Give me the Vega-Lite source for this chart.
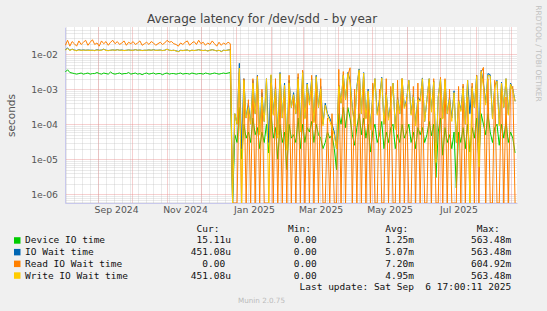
{
  "$schema": "https://vega.github.io/schema/vega-lite/v6.json",
  "width": 452,
  "height": 176,
  "autosize": {"type": "none"},
  "padding": {"left": 65, "top": 27, "right": 30, "bottom": 108},
  "background": "#f0f0f0",
  "title": {"text": "Average latency for /dev/sdd - by year", "font": "DejaVu Sans", "fontSize": 12, "fontWeight": "normal", "color": "#444444", "anchor": "middle", "frame": "group", "dx": -29, "dy": 25, "offset": 4},
  "config": {
    "view": {"fill": "#ffffff", "stroke": null},
    "axis": {"labelFont": "DejaVu Sans", "labelFontSize": 9.3, "labelColor": "#555555", "titleFont": "DejaVu Sans", "titleFontWeight": "normal", "domainColor": "#c8c8ec"}
  },
  "data": {"values": [
    {"d":"2024-08-03","g":3.1e-3,"b":1.35e-2,"o":1.8e-2,"w":1.32e-2},
    {"d":"2024-08-05","g":3.6e-3,"b":1.5e-2,"o":2.5e-2,"w":1.45e-2},
    {"d":"2024-08-07","g":3.0e-3,"b":1.3e-2,"o":1.7e-2,"w":1.28e-2},
    {"d":"2024-08-09","g":2.9e-3,"b":1.4e-2,"o":2.3e-2,"w":1.38e-2},
    {"d":"2024-08-11","g":2.8e-3,"b":1.32e-2,"o":2.0e-2,"w":1.3e-2},
    {"d":"2024-08-13","g":2.7e-3,"b":1.28e-2,"o":1.7e-2,"w":1.25e-2},
    {"d":"2024-08-15","g":2.8e-3,"b":1.35e-2,"o":2.4e-2,"w":1.33e-2},
    {"d":"2024-08-17","g":2.9e-3,"b":1.3e-2,"o":1.9e-2,"w":1.29e-2},
    {"d":"2024-08-19","g":2.7e-3,"b":1.33e-2,"o":2.2e-2,"w":1.3e-2},
    {"d":"2024-08-21","g":2.8e-3,"b":1.3e-2,"o":2.5e-2,"w":1.3e-2},
    {"d":"2024-08-23","g":2.9e-3,"b":1.32e-2,"o":1.8e-2,"w":1.3e-2},
    {"d":"2024-08-25","g":2.7e-3,"b":1.3e-2,"o":2.2e-2,"w":1.28e-2},
    {"d":"2024-08-27","g":2.8e-3,"b":1.3e-2,"o":2.6e-2,"w":1.3e-2},
    {"d":"2024-08-29","g":2.8e-3,"b":1.28e-2,"o":1.9e-2,"w":1.26e-2},
    {"d":"2024-08-31","g":3.0e-3,"b":1.35e-2,"o":2.1e-2,"w":1.33e-2},
    {"d":"2024-09-02","g":2.8e-3,"b":1.3e-2,"o":1.7e-2,"w":1.28e-2},
    {"d":"2024-09-04","g":2.7e-3,"b":1.32e-2,"o":2.4e-2,"w":1.3e-2},
    {"d":"2024-09-06","g":2.9e-3,"b":1.4e-2,"o":2.0e-2,"w":1.38e-2},
    {"d":"2024-09-08","g":2.8e-3,"b":1.3e-2,"o":2.3e-2,"w":1.28e-2},
    {"d":"2024-09-10","g":2.7e-3,"b":1.28e-2,"o":1.8e-2,"w":1.26e-2},
    {"d":"2024-09-12","g":3.1e-3,"b":1.3e-2,"o":2.2e-2,"w":1.3e-2},
    {"d":"2024-09-14","g":2.8e-3,"b":1.33e-2,"o":2.5e-2,"w":1.32e-2},
    {"d":"2024-09-16","g":2.7e-3,"b":1.3e-2,"o":2.0e-2,"w":1.29e-2},
    {"d":"2024-09-18","g":2.8e-3,"b":1.35e-2,"o":2.3e-2,"w":1.34e-2},
    {"d":"2024-09-20","g":2.9e-3,"b":1.3e-2,"o":1.9e-2,"w":1.3e-2},
    {"d":"2024-09-22","g":2.7e-3,"b":1.32e-2,"o":2.1e-2,"w":1.3e-2},
    {"d":"2024-09-24","g":2.8e-3,"b":1.28e-2,"o":2.4e-2,"w":1.27e-2},
    {"d":"2024-09-26","g":2.8e-3,"b":1.3e-2,"o":1.8e-2,"w":1.29e-2},
    {"d":"2024-09-28","g":3.0e-3,"b":1.33e-2,"o":2.2e-2,"w":1.32e-2},
    {"d":"2024-09-30","g":2.7e-3,"b":1.3e-2,"o":2.0e-2,"w":1.3e-2},
    {"d":"2024-10-02","g":2.8e-3,"b":1.3e-2,"o":2.3e-2,"w":1.29e-2},
    {"d":"2024-10-04","g":2.9e-3,"b":1.35e-2,"o":1.9e-2,"w":1.34e-2},
    {"d":"2024-10-06","g":2.7e-3,"b":1.3e-2,"o":2.1e-2,"w":1.3e-2},
    {"d":"2024-10-08","g":2.8e-3,"b":1.32e-2,"o":2.4e-2,"w":1.31e-2},
    {"d":"2024-10-10","g":2.6e-3,"b":1.28e-2,"o":1.8e-2,"w":1.27e-2},
    {"d":"2024-10-12","g":2.8e-3,"b":1.3e-2,"o":2.0e-2,"w":1.3e-2},
    {"d":"2024-10-14","g":2.9e-3,"b":1.3e-2,"o":2.2e-2,"w":1.29e-2},
    {"d":"2024-10-16","g":2.7e-3,"b":1.33e-2,"o":1.9e-2,"w":1.32e-2},
    {"d":"2024-10-18","g":2.8e-3,"b":1.3e-2,"o":2.3e-2,"w":1.3e-2},
    {"d":"2024-10-20","g":2.9e-3,"b":1.35e-2,"o":2.1e-2,"w":1.33e-2},
    {"d":"2024-10-22","g":2.7e-3,"b":1.3e-2,"o":1.8e-2,"w":1.28e-2},
    {"d":"2024-10-24","g":2.8e-3,"b":1.3e-2,"o":2.0e-2,"w":1.3e-2},
    {"d":"2024-10-26","g":2.8e-3,"b":1.32e-2,"o":2.2e-2,"w":1.31e-2},
    {"d":"2024-10-28","g":2.6e-3,"b":1.28e-2,"o":1.9e-2,"w":1.27e-2},
    {"d":"2024-10-30","g":2.8e-3,"b":1.3e-2,"o":2.1e-2,"w":1.3e-2},
    {"d":"2024-11-01","g":2.9e-3,"b":1.4e-2,"o":2.5e-2,"w":1.38e-2},
    {"d":"2024-11-03","g":2.7e-3,"b":1.3e-2,"o":2.2e-2,"w":1.3e-2},
    {"d":"2024-11-05","g":2.8e-3,"b":1.28e-2,"o":2.3e-2,"w":1.27e-2},
    {"d":"2024-11-07","g":2.8e-3,"b":1.3e-2,"o":2.0e-2,"w":1.3e-2},
    {"d":"2024-11-09","g":2.7e-3,"b":1.25e-2,"o":1.9e-2,"w":1.24e-2},
    {"d":"2024-11-11","g":2.8e-3,"b":1.2e-2,"o":1.7e-2,"w":1.18e-2},
    {"d":"2024-11-13","g":2.9e-3,"b":1.3e-2,"o":2.1e-2,"w":1.28e-2},
    {"d":"2024-11-15","g":2.7e-3,"b":1.28e-2,"o":1.9e-2,"w":1.26e-2},
    {"d":"2024-11-17","g":2.8e-3,"b":1.3e-2,"o":2.2e-2,"w":1.3e-2},
    {"d":"2024-11-19","g":2.8e-3,"b":1.32e-2,"o":2.4e-2,"w":1.31e-2},
    {"d":"2024-11-21","g":2.7e-3,"b":1.25e-2,"o":1.8e-2,"w":1.24e-2},
    {"d":"2024-11-23","g":2.9e-3,"b":1.3e-2,"o":2.1e-2,"w":1.3e-2},
    {"d":"2024-11-25","g":2.8e-3,"b":1.28e-2,"o":2.3e-2,"w":1.27e-2},
    {"d":"2024-11-27","g":2.7e-3,"b":1.3e-2,"o":1.9e-2,"w":1.3e-2},
    {"d":"2024-11-29","g":2.8e-3,"b":1.35e-2,"o":2.5e-2,"w":1.34e-2},
    {"d":"2024-12-01","g":2.8e-3,"b":1.3e-2,"o":2.0e-2,"w":1.29e-2},
    {"d":"2024-12-03","g":2.7e-3,"b":1.28e-2,"o":2.2e-2,"w":1.27e-2},
    {"d":"2024-12-05","g":2.9e-3,"b":1.3e-2,"o":1.8e-2,"w":1.3e-2},
    {"d":"2024-12-07","g":2.8e-3,"b":1.25e-2,"o":2.1e-2,"w":1.23e-2},
    {"d":"2024-12-09","g":2.7e-3,"b":1.3e-2,"o":1.9e-2,"w":1.3e-2},
    {"d":"2024-12-11","g":2.8e-3,"b":1.35e-2,"o":2.4e-2,"w":1.34e-2},
    {"d":"2024-12-13","g":2.9e-3,"b":1.3e-2,"o":2.0e-2,"w":1.29e-2},
    {"d":"2024-12-15","g":2.8e-3,"b":1.25e-2,"o":1.7e-2,"w":1.24e-2},
    {"d":"2024-12-17","g":2.7e-3,"b":1.3e-2,"o":2.2e-2,"w":1.3e-2},
    {"d":"2024-12-19","g":2.8e-3,"b":1.2e-2,"o":1.8e-2,"w":1.18e-2},
    {"d":"2024-12-21","g":2.9e-3,"b":1.3e-2,"o":2.1e-2,"w":1.3e-2},
    {"d":"2024-12-23","g":2.8e-3,"b":1.28e-2,"o":1.9e-2,"w":1.27e-2},
    {"d":"2024-12-25","g":2.9e-3,"b":1.32e-2,"o":2.2e-2,"w":1.31e-2},
    {"d":"2024-12-27","g":3.0e-3,"b":1.35e-2,"o":2.0e-2,"w":1.33e-2},
    {"d":"2024-12-29","g":0,"b":0,"o":0,"w":0},
    {"d":"2024-12-31","g":5e-5,"b":2e-4,"o":0,"w":2e-4},
    {"d":"2025-01-02","g":3e-5,"b":1e-4,"o":0,"w":1e-4},
    {"d":"2025-01-04","g":3e-4,"b":5.5e-3,"o":3e-3,"w":4e-3},
    {"d":"2025-01-06","g":1e-5,"b":2e-5,"o":0,"w":0},
    {"d":"2025-01-08","g":1e-4,"b":2e-3,"o":2e-3,"w":1.8e-3},
    {"d":"2025-01-10","g":4e-5,"b":1.5e-4,"o":0,"w":1.5e-4},
    {"d":"2025-01-12","g":6e-5,"b":4e-4,"o":5e-4,"w":3e-4},
    {"d":"2025-01-14","g":3e-5,"b":1e-4,"o":0,"w":1e-4},
    {"d":"2025-01-16","g":1.5e-4,"b":1.8e-3,"o":2e-3,"w":1.5e-3},
    {"d":"2025-01-18","g":5e-5,"b":2e-4,"o":0,"w":2e-4},
    {"d":"2025-01-20","g":8e-5,"b":2.5e-3,"o":2.4e-3,"w":2.2e-3},
    {"d":"2025-01-22","g":2e-5,"b":6e-5,"o":0,"w":5e-5},
    {"d":"2025-01-24","g":6e-5,"b":8e-4,"o":1e-3,"w":6e-4},
    {"d":"2025-01-26","g":3e-5,"b":1.2e-4,"o":0,"w":1.2e-4},
    {"d":"2025-01-28","g":1e-4,"b":2e-3,"o":0,"w":2e-3},
    {"d":"2025-01-30","g":1.5e-5,"b":3e-5,"o":0,"w":0},
    {"d":"2025-02-01","g":2e-4,"b":2.5e-3,"o":1.5e-3,"w":2.6e-3},
    {"d":"2025-02-03","g":4e-5,"b":2e-4,"o":0,"w":1.8e-4},
    {"d":"2025-02-05","g":8e-5,"b":1.2e-3,"o":2e-3,"w":1e-3},
    {"d":"2025-02-07","g":1e-5,"b":5e-5,"o":0,"w":4e-5},
    {"d":"2025-02-09","g":1e-4,"b":3e-3,"o":1e-3,"w":2.8e-3},
    {"d":"2025-02-11","g":3e-5,"b":1.5e-4,"o":0,"w":1.5e-4},
    {"d":"2025-02-13","g":6e-5,"b":1.5e-3,"o":1.2e-3,"w":1.3e-3},
    {"d":"2025-02-15","g":5e-6,"b":2e-5,"o":0,"w":1.8e-5},
    {"d":"2025-02-17","g":1e-4,"b":1.8e-3,"o":2.5e-3,"w":1.5e-3},
    {"d":"2025-02-19","g":4e-5,"b":3e-4,"o":0,"w":3e-4},
    {"d":"2025-02-21","g":5e-5,"b":8e-4,"o":6e-4,"w":7e-4},
    {"d":"2025-02-23","g":3e-5,"b":2e-4,"o":0,"w":2e-4},
    {"d":"2025-02-25","g":1.5e-4,"b":2.2e-3,"o":2.8e-3,"w":2e-3},
    {"d":"2025-02-27","g":2e-5,"b":8e-5,"o":0,"w":6e-5},
    {"d":"2025-03-01","g":1e-4,"b":3.2e-3,"o":3.5e-3,"w":3e-3},
    {"d":"2025-03-03","g":3e-5,"b":1.5e-4,"o":0,"w":1.4e-4},
    {"d":"2025-03-05","g":8e-5,"b":1.5e-3,"o":8e-4,"w":1.4e-3},
    {"d":"2025-03-07","g":6e-5,"b":4e-4,"o":0,"w":3.5e-4},
    {"d":"2025-03-09","g":1.2e-4,"b":2e-3,"o":2.5e-3,"w":1.8e-3},
    {"d":"2025-03-11","g":3e-5,"b":1.2e-4,"o":0,"w":1.1e-4},
    {"d":"2025-03-13","g":1e-4,"b":2.5e-3,"o":1.5e-3,"w":2.3e-3},
    {"d":"2025-03-15","g":5e-5,"b":3e-4,"o":0,"w":3e-4},
    {"d":"2025-03-17","g":4e-5,"b":1.2e-3,"o":2e-3,"w":1e-3},
    {"d":"2025-03-19","g":2e-5,"b":1e-4,"o":0,"w":9e-5},
    {"d":"2025-03-21","g":3e-5,"b":4e-4,"o":0,"w":3.5e-4},
    {"d":"2025-03-23","g":6e-5,"b":2e-4,"o":1.5e-4,"w":1.8e-4},
    {"d":"2025-03-25","g":4e-5,"b":1.5e-4,"o":0,"w":1.2e-4},
    {"d":"2025-03-27","g":5e-5,"b":1e-4,"o":2e-4,"w":8e-5},
    {"d":"2025-03-29","g":2e-5,"b":6e-5,"o":0,"w":5e-5},
    {"d":"2025-03-31","g":5e-6,"b":2e-5,"o":0,"w":2e-5},
    {"d":"2025-04-02","g":2e-4,"b":1.3e-3,"o":3.7e-3,"w":1.2e-3},
    {"d":"2025-04-04","g":1e-4,"b":4e-4,"o":0,"w":4e-4},
    {"d":"2025-04-06","g":3e-4,"b":2.6e-3,"o":3.2e-3,"w":2.5e-3},
    {"d":"2025-04-08","g":8e-5,"b":5e-4,"o":0,"w":5e-4},
    {"d":"2025-04-10","g":3e-4,"b":3e-3,"o":2.5e-3,"w":2.8e-3},
    {"d":"2025-04-12","g":1.5e-4,"b":1.8e-3,"o":4.1e-3,"w":1.5e-3},
    {"d":"2025-04-14","g":5e-5,"b":3e-4,"o":0,"w":2.5e-4},
    {"d":"2025-04-16","g":2.5e-5,"b":1e-4,"o":1e-3,"w":9e-5},
    {"d":"2025-04-18","g":8e-5,"b":1.2e-3,"o":0,"w":1.1e-3},
    {"d":"2025-04-20","g":2e-4,"b":3.8e-3,"o":3e-3,"w":3.6e-3},
    {"d":"2025-04-22","g":5e-5,"b":2e-4,"o":0,"w":2e-4},
    {"d":"2025-04-24","g":1.5e-4,"b":3e-3,"o":2e-3,"w":2.9e-3},
    {"d":"2025-04-26","g":4e-5,"b":1.5e-4,"o":0,"w":1.4e-4},
    {"d":"2025-04-28","g":1e-4,"b":1e-3,"o":8e-4,"w":9e-4},
    {"d":"2025-04-30","g":1.6e-5,"b":8e-5,"o":0,"w":7e-5},
    {"d":"2025-05-02","g":6e-5,"b":6e-4,"o":1.5e-3,"w":5e-4},
    {"d":"2025-05-04","g":1e-4,"b":2e-3,"o":0,"w":2e-3},
    {"d":"2025-05-06","g":3e-5,"b":2e-4,"o":0,"w":1.8e-4},
    {"d":"2025-05-08","g":5e-5,"b":5e-4,"o":1e-3,"w":4e-4},
    {"d":"2025-05-10","g":1.2e-4,"b":2.2e-3,"o":0,"w":2.1e-3},
    {"d":"2025-05-12","g":2e-5,"b":1e-4,"o":0,"w":1e-4},
    {"d":"2025-05-14","g":6e-5,"b":8e-4,"o":2e-3,"w":7e-4},
    {"d":"2025-05-16","g":3e-5,"b":1.5e-4,"o":0,"w":1.3e-4},
    {"d":"2025-05-18","g":8e-5,"b":3.8e-4,"o":1.2e-3,"w":3.5e-4},
    {"d":"2025-05-20","g":1e-4,"b":1.5e-3,"o":0,"w":1.5e-3},
    {"d":"2025-05-22","g":2e-5,"b":8e-5,"o":0,"w":7e-5},
    {"d":"2025-05-24","g":5e-5,"b":6e-4,"o":1.8e-3,"w":5e-4},
    {"d":"2025-05-26","g":3e-5,"b":2e-4,"o":0,"w":2e-4},
    {"d":"2025-05-28","g":1e-4,"b":2e-3,"o":2e-3,"w":2e-3},
    {"d":"2025-05-30","g":4e-5,"b":3e-4,"o":0,"w":2.8e-4},
    {"d":"2025-06-01","g":6e-5,"b":5e-4,"o":6e-4,"w":4.5e-4},
    {"d":"2025-06-03","g":1e-4,"b":1.8e-3,"o":0,"w":1.8e-3},
    {"d":"2025-06-05","g":3e-5,"b":2e-4,"o":0,"w":1.8e-4},
    {"d":"2025-06-07","g":6e-5,"b":7e-4,"o":1.2e-3,"w":6e-4},
    {"d":"2025-06-09","g":2e-5,"b":1e-4,"o":0,"w":9e-5},
    {"d":"2025-06-11","g":8e-5,"b":6e-4,"o":1.5e-3,"w":5e-4},
    {"d":"2025-06-13","g":5e-5,"b":4.7e-4,"o":0,"w":4.5e-4},
    {"d":"2025-06-15","g":8e-5,"b":2.1e-3,"o":1.2e-3,"w":2e-3},
    {"d":"2025-06-17","g":3e-5,"b":1.2e-4,"o":0,"w":1.2e-4},
    {"d":"2025-06-19","g":5e-5,"b":5e-4,"o":0,"w":5e-4},
    {"d":"2025-06-21","g":1.2e-4,"b":2e-3,"o":1.5e-3,"w":2e-3},
    {"d":"2025-06-23","g":4.7e-5,"b":2.5e-4,"o":0,"w":2.2e-4},
    {"d":"2025-06-25","g":1e-4,"b":1.7e-3,"o":2e-3,"w":1.6e-3},
    {"d":"2025-06-27","g":3e-6,"b":1e-5,"o":0,"w":8e-6},
    {"d":"2025-06-29","g":6e-5,"b":6e-4,"o":0,"w":6e-4},
    {"d":"2025-07-01","g":1.5e-4,"b":2e-3,"o":2.2e-3,"w":1.9e-3},
    {"d":"2025-07-03","g":1.3e-5,"b":1.5e-4,"o":0,"w":1.4e-4},
    {"d":"2025-07-05","g":8e-5,"b":1.8e-3,"o":2e-3,"w":1.8e-3},
    {"d":"2025-07-07","g":3e-5,"b":2e-4,"o":0,"w":2e-4},
    {"d":"2025-07-09","g":5e-5,"b":6e-4,"o":1e-3,"w":5e-4},
    {"d":"2025-07-11","g":2e-5,"b":1.5e-4,"o":0,"w":1.2e-4},
    {"d":"2025-07-13","g":6e-5,"b":9e-4,"o":0,"w":8e-4},
    {"d":"2025-07-15","g":1.5e-6,"b":3e-5,"o":0,"w":3e-5},
    {"d":"2025-07-17","g":6e-5,"b":5e-4,"o":1.2e-3,"w":4.5e-4},
    {"d":"2025-07-19","g":3e-5,"b":2.5e-4,"o":0,"w":2.3e-4},
    {"d":"2025-07-21","g":8e-5,"b":1.2e-3,"o":1.4e-3,"w":1.1e-3},
    {"d":"2025-07-23","g":2e-5,"b":1e-4,"o":0,"w":1e-4},
    {"d":"2025-07-25","g":1e-4,"b":1.8e-3,"o":6e-4,"w":1.8e-3},
    {"d":"2025-07-27","g":1.6e-5,"b":2e-4,"o":0,"w":0},
    {"d":"2025-07-29","g":8e-5,"b":1.2e-3,"o":1.5e-3,"w":1.1e-3},
    {"d":"2025-07-31","g":4e-5,"b":3e-4,"o":0,"w":3e-4},
    {"d":"2025-08-02","g":1.5e-4,"b":2.5e-3,"o":2.5e-3,"w":2.3e-3},
    {"d":"2025-08-04","g":8e-6,"b":3e-5,"o":0,"w":6e-6},
    {"d":"2025-08-06","g":2e-4,"b":3.5e-3,"o":3e-3,"w":3.2e-3},
    {"d":"2025-08-08","g":1e-4,"b":1.5e-3,"o":4.2e-3,"w":1.2e-3},
    {"d":"2025-08-10","g":5e-5,"b":4e-4,"o":0,"w":3.5e-4},
    {"d":"2025-08-12","g":2e-4,"b":2.8e-3,"o":2e-3,"w":2.5e-3},
    {"d":"2025-08-14","g":6e-5,"b":2.6e-3,"o":0,"w":2.4e-3},
    {"d":"2025-08-16","g":3e-5,"b":1.5e-4,"o":0,"w":1.4e-4},
    {"d":"2025-08-18","g":8e-5,"b":1.2e-3,"o":1.8e-3,"w":1.1e-3},
    {"d":"2025-08-20","g":1e-4,"b":1.8e-3,"o":0,"w":1.7e-3},
    {"d":"2025-08-22","g":2.5e-5,"b":1e-4,"o":0,"w":9e-5},
    {"d":"2025-08-24","g":1e-4,"b":1.6e-3,"o":1.5e-3,"w":1.5e-3},
    {"d":"2025-08-26","g":4e-5,"b":3e-4,"o":0,"w":3e-4},
    {"d":"2025-08-28","g":1.2e-4,"b":2e-3,"o":6e-4,"w":2e-3},
    {"d":"2025-08-30","g":3e-5,"b":2e-4,"o":0,"w":1.8e-4},
    {"d":"2025-09-01","g":6e-5,"b":1.5e-3,"o":1e-3,"w":1.4e-3},
    {"d":"2025-09-03","g":4e-5,"b":1e-3,"o":1.2e-3,"w":9e-4},
    {"d":"2025-09-05","g":1.511e-5,"b":4.5108e-4,"o":0,"w":4.5108e-4}
  ]},
  "transform": [{"fold": ["g", "b", "o", "w"], "as": ["k", "v"]}],
  "resolve": {"axis": {"x": "independent", "y": "independent"}},
  "encoding": {
    "x": {"field": "d", "type": "temporal", "scale": {"domain": [{"year": 2024, "month": 8, "date": 2, "hours": 17}, {"year": 2025, "month": 9, "date": 6, "hours": 17}], "nice": false}},
    "y": {"field": "v", "type": "quantitative", "scale": {"type": "log", "domain": [5.6e-7, 0.06], "clamp": true, "nice": false, "zero": false}}
  },
  "layer": [
    {
      "mark": {"type": "point", "opacity": 0},
      "encoding": {
        "x": {"field": "d", "type": "temporal", "axis": {"orient": "bottom", "grid": true, "gridColor": "#b4b4b4", "gridDash": [1, 1], "gridOpacity": 0.55, "tickCount": {"interval": "week", "step": 1}, "labels": false, "ticks": false, "domain": false, "title": null}},
        "y": {"field": "v", "type": "quantitative", "axis": {"orient": "left", "grid": true, "gridColor": "#b4b4b4", "gridDash": [1, 1], "gridOpacity": 0.55, "values": [6e-7, 7e-7, 8e-7, 9e-7, 2e-6, 3e-6, 4e-6, 5e-6, 6e-6, 7e-6, 8e-6, 9e-6, 2e-5, 3e-5, 4e-5, 5e-5, 6e-5, 7e-5, 8e-5, 9e-5, 2e-4, 3e-4, 4e-4, 5e-4, 6e-4, 7e-4, 8e-4, 9e-4, 2e-3, 3e-3, 4e-3, 5e-3, 6e-3, 7e-3, 8e-3, 9e-3, 2e-2, 3e-2, 4e-2, 5e-2], "labels": false, "ticks": false, "domain": false, "title": null}}
      }
    },
    {
      "mark": {"type": "point", "opacity": 0},
      "encoding": {
        "x": {"field": "d", "type": "temporal", "axis": {"orient": "bottom", "grid": true, "gridColor": "#e88a8a", "gridDash": [1, 1], "gridOpacity": 0.8, "tickCount": {"interval": "month", "step": 1}, "labels": false, "ticks": false, "domain": false, "title": null}},
        "y": {"field": "v", "type": "quantitative", "axis": {"orient": "left", "grid": true, "gridColor": "#e88a8a", "gridDash": [1, 1], "gridOpacity": 0.8, "values": [1e-6, 1e-5, 1e-4, 1e-3, 1e-2], "labelExpr": "replace(format(datum.value, '.0e'), 'e-', 'e-0')", "ticks": false, "labelPadding": 7.5, "domain": true, "domainColor": "#c8c8ec", "title": "seconds", "titleFontSize": 10.5, "titleColor": "#555555", "titleX": -54, "titleY": 88, "titleAlign": "center", "titleBaseline": "middle", "titleAngle": -90}}
      }
    },
    {
      "mark": {"type": "line", "strokeWidth": 1, "clip": true},
      "encoding": {
        "x": {"field": "d", "type": "temporal", "axis": {"orient": "bottom", "grid": false, "values": [{"year": 2024, "month": 9, "date": 1}, {"year": 2024, "month": 11, "date": 1}, {"year": 2025, "month": 1, "date": 1}, {"year": 2025, "month": 3, "date": 1}, {"year": 2025, "month": 5, "date": 1}, {"year": 2025, "month": 7, "date": 1}], "format": "%b %Y", "labelOffset": 18, "labelFlush": false, "labelOverlap": false, "ticks": false, "labelPadding": 2.5, "domain": true, "domainColor": "#c8c8ec", "title": "Munin 2.0.75", "titleFontSize": 7.2, "titleColor": "#bbbbbb", "titleX": 196, "titleY": 97, "titleAlign": "center", "titleBaseline": "middle"}},
        "y": {"field": "v", "type": "quantitative", "axis": {"orient": "right", "grid": false, "labels": false, "ticks": false, "domain": false, "title": "RRDTOOL / TOBI OETIKER", "titleFontSize": 7.5, "titleColor": "#c0c0c0", "titleX": 20.5, "titleY": 26, "titleAngle": 90, "titleAlign": "center", "titleBaseline": "middle"}},
        "color": {
          "field": "k", "type": "nominal",
          "scale": {"domain": ["h", "g", "b", "o", "w", "u"], "range": ["rgba(0,0,0,0)", "#00cc00", "#0066b3", "#ff8000", "#ffcc00", "rgba(0,0,0,0)"]},
          "legend": {
            "orient": "none", "legendX": -52.5, "legendY": 197, "direction": "vertical", "padding": 0, "title": null,
            "labelFont": "DejaVu Sans Mono", "labelFontSize": 9.5, "labelColor": "#111111", "labelLimit": 700, "labelOffset": 3,
            "labelExpr": "datum.value == 'h' ? '\u200b\u00a0\u00a0\u00a0\u00a0\u00a0\u00a0\u00a0\u00a0\u00a0\u00a0\u00a0\u00a0\u00a0\u00a0\u00a0\u00a0\u00a0\u00a0\u00a0\u00a0\u00a0\u00a0\u00a0\u00a0\u00a0\u00a0\u00a0\u00a0\u00a0\u00a0Cur:\u00a0\u00a0\u00a0\u00a0\u00a0\u00a0\u00a0\u00a0\u00a0\u00a0\u00a0\u00a0Min:\u00a0\u00a0\u00a0\u00a0\u00a0\u00a0\u00a0\u00a0\u00a0\u00a0\u00a0\u00a0\u00a0Avg:\u00a0\u00a0\u00a0\u00a0\u00a0\u00a0\u00a0\u00a0\u00a0\u00a0\u00a0\u00a0Max:' : datum.value == 'g' ? 'Device IO time\u00a0\u00a0\u00a0\u00a0\u00a0\u00a0\u00a0\u00a0\u00a0\u00a0\u00a0\u00a0\u00a0\u00a0\u00a0\u00a015.11u\u00a0\u00a0\u00a0\u00a0\u00a0\u00a0\u00a0\u00a0\u00a0\u00a0\u00a00.00\u00a0\u00a0\u00a0\u00a0\u00a0\u00a0\u00a0\u00a0\u00a0\u00a0\u00a0\u00a01.25m\u00a0\u00a0\u00a0\u00a0\u00a0\u00a0\u00a0\u00a0\u00a0\u00a0563.48m' : datum.value == 'b' ? 'IO Wait time\u00a0\u00a0\u00a0\u00a0\u00a0\u00a0\u00a0\u00a0\u00a0\u00a0\u00a0\u00a0\u00a0\u00a0\u00a0\u00a0\u00a0451.08u\u00a0\u00a0\u00a0\u00a0\u00a0\u00a0\u00a0\u00a0\u00a0\u00a0\u00a00.00\u00a0\u00a0\u00a0\u00a0\u00a0\u00a0\u00a0\u00a0\u00a0\u00a0\u00a0\u00a05.07m\u00a0\u00a0\u00a0\u00a0\u00a0\u00a0\u00a0\u00a0\u00a0\u00a0563.48m' : datum.value == 'o' ? 'Read IO Wait time\u00a0\u00a0\u00a0\u00a0\u00a0\u00a0\u00a0\u00a0\u00a0\u00a0\u00a0\u00a0\u00a0\u00a00.00\u00a0\u00a0\u00a0\u00a0\u00a0\u00a0\u00a0\u00a0\u00a0\u00a0\u00a0\u00a00.00\u00a0\u00a0\u00a0\u00a0\u00a0\u00a0\u00a0\u00a0\u00a0\u00a0\u00a0\u00a07.20m\u00a0\u00a0\u00a0\u00a0\u00a0\u00a0\u00a0\u00a0\u00a0\u00a0604.92m' : datum.value == 'w' ? 'Write IO Wait time\u00a0\u00a0\u00a0\u00a0\u00a0\u00a0\u00a0\u00a0\u00a0\u00a0\u00a0451.08u\u00a0\u00a0\u00a0\u00a0\u00a0\u00a0\u00a0\u00a0\u00a0\u00a0\u00a00.00\u00a0\u00a0\u00a0\u00a0\u00a0\u00a0\u00a0\u00a0\u00a0\u00a0\u00a0\u00a04.95m\u00a0\u00a0\u00a0\u00a0\u00a0\u00a0\u00a0\u00a0\u00a0\u00a0563.48m' : '\u200b\u00a0\u00a0\u00a0\u00a0\u00a0\u00a0\u00a0\u00a0\u00a0\u00a0\u00a0\u00a0\u00a0\u00a0\u00a0\u00a0\u00a0\u00a0\u00a0\u00a0\u00a0\u00a0\u00a0\u00a0\u00a0\u00a0\u00a0\u00a0\u00a0\u00a0\u00a0\u00a0\u00a0\u00a0\u00a0\u00a0\u00a0\u00a0\u00a0\u00a0\u00a0\u00a0\u00a0\u00a0\u00a0\u00a0\u00a0\u00a0Last update: Sat Sep\u00a0\u00a06 17:00:11 2025'",
            "symbolType": "square", "symbolSize": 42, "symbolStrokeWidth": 0, "rowPadding": 0.7,
            "encode": {"symbols": {"update": {"fill": {"scale": "color", "field": "value"}, "stroke": {"value": "transparent"}, "opacity": {"value": 1}}}}
          }
        }
      }
    }
  ]
}
